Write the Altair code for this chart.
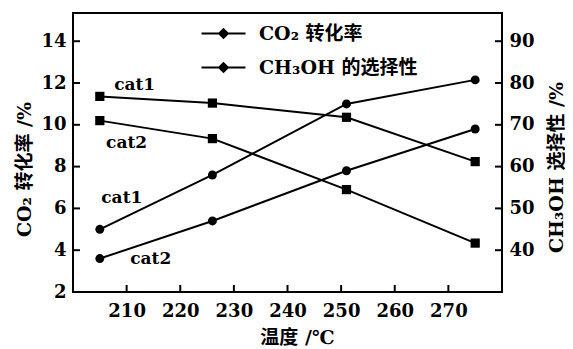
import altair as alt
import pandas as pd

# ---- data ----
temps = [205, 226, 251, 275]
conv_cat1 = [5.0, 7.6, 11.0, 12.15]
conv_cat2 = [3.6, 5.4, 7.8, 9.8]
sel_cat1 = [76.8, 75.2, 71.8, 61.2]
sel_cat2 = [71.0, 66.7, 54.5, 41.7]

catalysts = ["cat1", "cat2"]
series_names = ["CO₂ 转化率", "CH₃OH 的选择性"]

x_ticks = [210, 220, 230, 240, 250, 260, 270]
left_ticks = [2, 4, 6, 8, 10, 12, 14]
right_ticks = [40, 50, 60, 70, 80, 90]

# annotation anchors in data coordinates
conv_label_T = [209.1, 214.5]
conv_label_v = [6.5, 3.6]
sel_label_T = [211.5, 210.0]
sel_label_r = [79.5, 65.7]

W, H = 429, 279
FONT = "DejaVu Serif, Noto Sans CJK SC"

conv = pd.DataFrame({
    "T": temps * 2,
    "v": conv_cat1 + conv_cat2,
    "cat": [catalysts[0]] * 4 + [catalysts[1]] * 4,
    "series": series_names[0],
})
sel = pd.DataFrame({
    "T": temps * 2,
    "r": sel_cat1 + sel_cat2,
    "cat": [catalysts[0]] * 4 + [catalysts[1]] * 4,
    "series": series_names[1],
})
conv_lab = pd.DataFrame({"T": conv_label_T, "v": conv_label_v, "label": catalysts})
sel_lab = pd.DataFrame({"T": sel_label_T, "r": sel_label_r, "label": catalysts})
xt = pd.DataFrame({"T": x_ticks})
lt = pd.DataFrame({"v": [t for t in left_ticks if t != 2]})
rt = pd.DataFrame({"r": right_ticks})

x_axis = alt.Axis(
    values=x_ticks, title="温度 /℃", ticks=False, domain=False, grid=False,
    labelFont=FONT, labelFontSize=18, labelFontWeight="bold", labelColor="black",
    labelPadding=10, titleFont=FONT, titleFontSize=19, titleFontWeight="bold",
    titleColor="black", titleX=224, titleY=45, titleBaseline="middle", titleAlign="center",
)
x_enc = alt.X("T:Q", scale=alt.Scale(domain=[200, 280], nice=False, zero=False), axis=x_axis)

left_axis = alt.Axis(
    orient="left", values=left_ticks, title="CO₂ 转化率 /%", ticks=False, domain=False,
    grid=False, labelFont=FONT, labelFontSize=18, labelFontWeight="bold",
    labelColor="black", labelPadding=7, titleFont=FONT, titleFontSize=19,
    titleFontWeight="bold", titleColor="black", titleAngle=270, titleX=-49,
    titleY=156, titleAlign="center", titleBaseline="middle",
)
yl_enc = alt.Y("v:Q", scale=alt.Scale(domain=[2, 15.35], nice=False, zero=False), axis=left_axis)

right_axis = alt.Axis(
    orient="right", values=right_ticks, title="CH₃OH 选择性 /%", ticks=False, domain=False,
    grid=False, labelFont=FONT, labelFontSize=18, labelFontWeight="bold",
    labelColor="black", labelPadding=7, titleFont=FONT, titleFontSize=19,
    titleFontWeight="bold", titleColor="black", titleAngle=270, titleX=54,
    titleY=154, titleAlign="center", titleBaseline="middle",
)
yr_enc = alt.Y("r:Q", scale=alt.Scale(domain=[30, 96.75], nice=False, zero=False), axis=right_axis)

legend = alt.Legend(
    title=None, orient="none", legendX=141, legendY=11, direction="vertical",
    symbolType="M-2.75,0H2.75M0,-0.55L0.55,0L0,0.55L-0.55,0Z", symbolSize=256,
    symbolStrokeWidth=2, symbolStrokeColor="black", symbolFillColor="black",
    symbolOpacity=1, labelFont=FONT, labelFontSize=19, labelFontWeight="bold",
    labelColor="black", labelOffset=26, rowPadding=14,
)
color_enc = alt.Color(
    "series:N", scale=alt.Scale(domain=series_names, range=["black", "black"]), legend=legend
)

conv_lines = alt.Chart(conv).mark_line(color="black", strokeWidth=2).encode(
    x=x_enc, y=yl_enc, detail="cat:N")
conv_pts = alt.Chart(conv).mark_point(filled=True, shape="circle", size=80, opacity=1).encode(
    x=x_enc, y=yl_enc, color=color_enc)
conv_txt = alt.Chart(conv_lab).mark_text(
    font=FONT, fontSize=17, fontWeight="bold", color="black").encode(
    x=x_enc, y=yl_enc, text="label:N")
x_tick_marks = alt.Chart(xt).mark_rule(color="black", strokeWidth=2).encode(
    x=x_enc, y=alt.value(H), y2=alt.value(H - 7))
l_tick_marks = alt.Chart(lt).mark_rule(color="black", strokeWidth=2).encode(
    y=yl_enc, x=alt.value(0), x2=alt.value(7))

sel_lines = alt.Chart(sel).mark_line(color="black", strokeWidth=2).encode(
    x=x_enc, y=yr_enc, detail="cat:N")
sel_pts = alt.Chart(sel).mark_point(filled=True, shape="square", size=85, opacity=1).encode(
    x=x_enc, y=yr_enc, color=color_enc)
sel_txt = alt.Chart(sel_lab).mark_text(
    font=FONT, fontSize=17, fontWeight="bold", color="black").encode(
    x=x_enc, y=yr_enc, text="label:N")
r_tick_marks = alt.Chart(rt).mark_rule(color="black", strokeWidth=2).encode(
    y=yr_enc, x=alt.value(W), x2=alt.value(W - 7))

left = alt.layer(x_tick_marks, l_tick_marks, conv_lines, conv_pts, conv_txt)
right = alt.layer(r_tick_marks, sel_lines, sel_pts, sel_txt)

chart = (
    alt.layer(left, right)
    .resolve_scale(y="independent")
    .properties(
        width=W, height=H,
        padding={"left": 65, "top": 5, "right": 63, "bottom": 57},
        autosize=alt.AutoSizeParams(type="none"),
        background="white",
    )
    .configure_view(stroke="black", strokeWidth=2)
)

chart.save("out.html", embed_options={"renderer": "svg", "actions": False})
